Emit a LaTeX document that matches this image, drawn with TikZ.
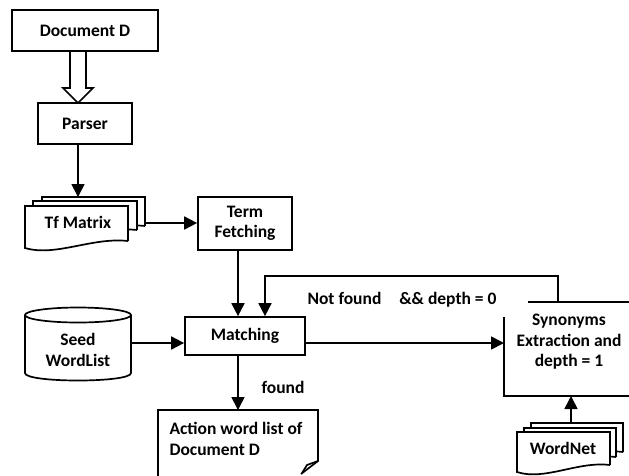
\documentclass[tikz,border=0pt]{standalone}
\usepackage{fontspec}
\setmainfont{Carlito}
\usetikzlibrary{arrows.meta}
\tikzset{
  ln/.style={line width=1.7pt},
  arr/.style={ln, -{Triangle[length=13pt,width=13pt]}},
  box/.style={draw, ln, rectangle, inner sep=0pt, txt},
  txt/.style={font=\fontsize{17.5}{20.5}\selectfont\bfseries, align=center},
  docsh/.style={draw, ln, fill=white, line join=miter},
}
\newcommand\wavedoc[4]{%
  \path[docsh] (#1+#3,#2+#4-7) -- (#1+#3,#2) -- (#1,#2) -- (#1,#2+#4)
    .. controls (#1+0.3*#3,#2+#4+9) and (#1+0.65*#3,#2+#4-11) .. (#1+#3,#2+#4-7);}
\begin{document}
\begin{tikzpicture}[x=1pt,y=-1pt]
\useasboundingbox (0,0) rectangle (629,475);

% boxes
\node[box, minimum width=146pt, minimum height=41pt] (doc) at (85,30.5) {Document D};
\node[box, minimum width=94pt, minimum height=41pt] (parser) at (85,123.5) {Parser};
\node[box, minimum width=94pt, minimum height=53pt] (term) at (245,223.5) {Term\\Fetching};
\node[box, minimum width=120pt, minimum height=38pt] (match) at (245,336) {Matching};

% hollow arrow
\draw[ln, line join=miter] (70,51) -- (70,88) -- (63,88) -- (78,103) -- (93,88) -- (86,88) -- (86,51);

% Tf Matrix multidocument
\wavedoc{42}{197}{103}{36}
\wavedoc{33}{201}{104}{36}
\wavedoc{25}{206}{103}{42}
\node[txt] (tf) at (78,222) {Tf Matrix};
\coordinate (tftop) at (78,197);
\coordinate (tfright) at (145,223);

% Seed WordList cylinder
\draw[ln] (78,315) ellipse [x radius=53, y radius=7.5];
\draw[ln] (25,315) -- (25,373) .. controls (25,383) and (131,383) .. (131,373) -- (131,315);
\node[txt, minimum width=106pt, inner sep=0pt] (seed) at (78,350) {Seed\\WordList};

% Action word list
\draw[ln, line join=miter] (158,478) -- (158,410) -- (318,410) -- (318,461) -- (301,474);
\draw[ln, line join=miter] (318,461) -- (307,465) -- (302,473);
\coordinate (acttop) at (238,410);
\node[txt, anchor=west, align=left] (act) at (166,439) {Action word list of\\Document D};

% Synonyms partial box
\coordinate (syntop) at (558,302);
\coordinate (synleft) at (504,343);
\draw[ln] (528,302) -- (632,302);
\draw[ln] (504,317) -- (504,396) -- (632,396);
\node[txt] (syn) at (569,342) {Synonyms\\Extraction and\\depth = 1};
\coordinate (synbot) at (571,396);

% WordNet multidocument
\wavedoc{531}{423}{92}{36}
\wavedoc{524}{428}{92}{36}
\wavedoc{517}{432}{93}{40}
\node[txt] (wn) at (563,448) {WordNet};
\coordinate (wntop) at (571,423);

% connectors
\draw[arr] (parser.south -| tftop) -- (tftop);
\draw[arr] (tfright) -- (tfright -| term.west);
\draw[arr] ([xshift=-7pt]term.south) -- ([xshift=-7pt]match.north);
\draw[arr] (syntop) |- ([xshift=20pt,yshift=40pt]match.north) -- ([xshift=20pt]match.north);
\draw[arr] ([yshift=7pt]seed.east) -- ([yshift=-7pt]match.west);
\draw[arr] ([yshift=-7pt]match.east) -- (synleft);
\draw[arr] ([xshift=-7pt]match.south) -- (acttop);
\draw[arr] (wntop) -- (synbot);

% labels
\node[txt] (nf) at (402,300) {Not found\hspace{18pt}\&\& depth = 0};
\node[txt] (fd) at (283,387) {found};
\end{tikzpicture}
\end{document}
